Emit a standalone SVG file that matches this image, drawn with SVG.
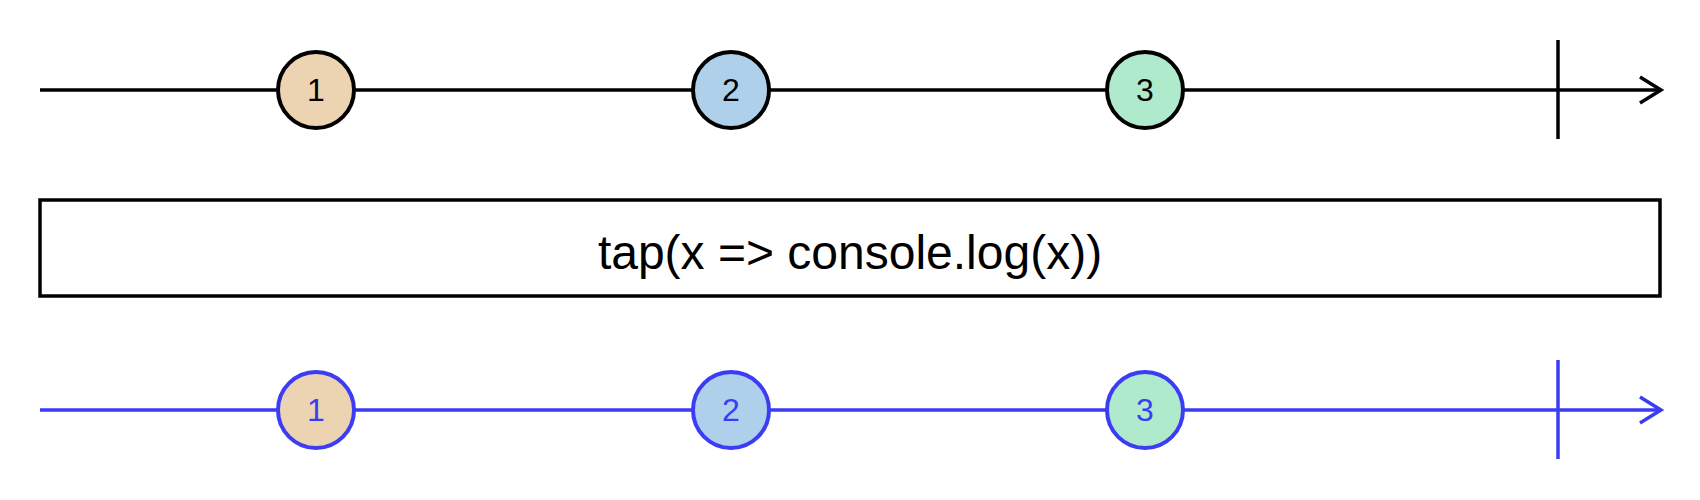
<svg xmlns="http://www.w3.org/2000/svg" width="1700" height="500" viewBox="0 0 1700 500">
  <style>
    .ln { stroke-width: 3.5; fill: none; }
    .cir { stroke-width: 4; }
    .blk { stroke: #000; }
    .blu { stroke: #3c3cf5; }
    .lbl { font-family: "Liberation Sans", Arial, sans-serif; font-size: 32px; text-anchor: middle; dominant-baseline: central; }
    .c1 { fill: #ecd3b2; }
    .c2 { fill: #afd0eb; }
    .c3 { fill: #aeeacb; }
  </style>
  <rect width="1700" height="500" fill="#fff"/>
  <g id="connectors">
    <line class="ln blk" x1="40" y1="90" x2="1661" y2="90"/>
    <line class="ln blk" x1="1558" y1="40" x2="1558" y2="139"/>
    <polyline class="ln blk" points="1640,77 1661,90 1640,103"/>
    <line class="ln blu" x1="40" y1="410" x2="1661" y2="410"/>
    <line class="ln blu" x1="1558" y1="360" x2="1558" y2="459"/>
    <polyline class="ln blu" points="1640,397 1661,410 1640,423"/>
  </g>
  <g id="top1"><circle class="blk cir c1" cx="316" cy="90" r="38"/><text class="lbl" x="316" y="90" fill="#000">1</text></g>
  <g id="top2"><circle class="blk cir c2" cx="731" cy="90" r="38"/><text class="lbl" x="731" y="90" fill="#000">2</text></g>
  <g id="top3"><circle class="blk cir c3" cx="1145" cy="90" r="38"/><text class="lbl" x="1145" y="90" fill="#000">3</text></g>
  <g id="operator">
    <rect class="ln blk" x="40" y="200" width="1620" height="96" fill="#fff"/>
    <text x="850" y="252" font-family="Liberation Sans, Arial, sans-serif" font-size="48" text-anchor="middle" dominant-baseline="central" fill="#000">tap(x =&gt; console.log(x))</text>
  </g>
  <g id="bot1"><circle class="blu cir c1" cx="316" cy="410" r="38"/><text class="lbl" x="316" y="410" fill="#3c3cf5">1</text></g>
  <g id="bot2"><circle class="blu cir c2" cx="731" cy="410" r="38"/><text class="lbl" x="731" y="410" fill="#3c3cf5">2</text></g>
  <g id="bot3"><circle class="blu cir c3" cx="1145" cy="410" r="38"/><text class="lbl" x="1145" y="410" fill="#3c3cf5">3</text></g>
</svg>
